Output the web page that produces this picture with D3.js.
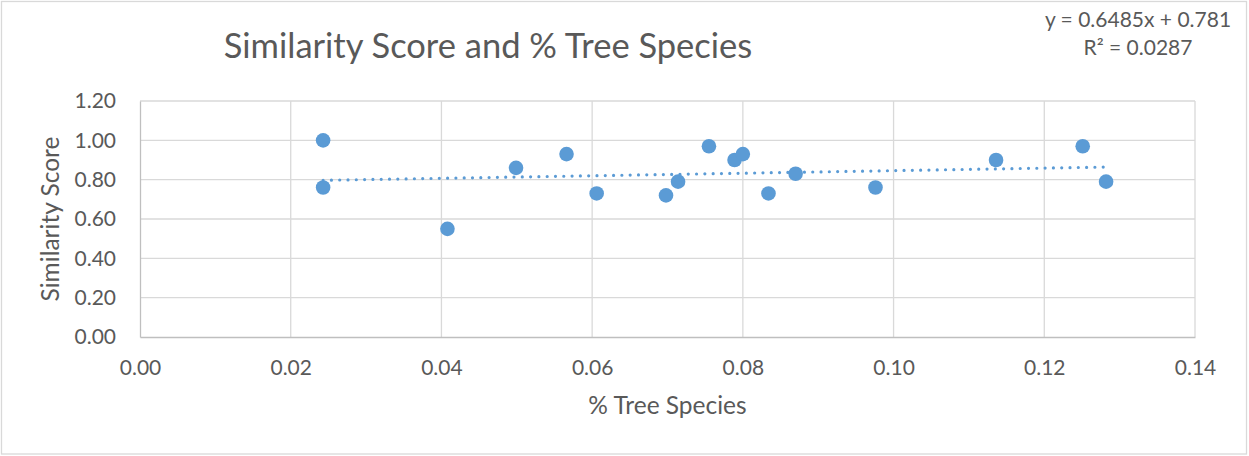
<!DOCTYPE html>
<html>
<head>
<meta charset="utf-8">
<script src="https://cdn.jsdelivr.net/npm/d3@7"></script>
<style>
  html, body { margin: 0; padding: 0; background: #fff; }
  svg { display: block; }
  text { font-family: Lato, "Open Sans", sans-serif; fill: #595959; }
</style>
</head>
<body>
<svg id="chart" width="1249" height="456"></svg>
<script>
// Share of tree species per site and the matching similarity score
const treeShare = [0.0243, 0.0243, 0.0408, 0.0499, 0.0566, 0.0606, 0.0698, 0.0714, 0.0755,
                   0.0789, 0.0800, 0.0834, 0.0870, 0.0976, 0.1136, 0.1251, 0.1282];
const similarity = [1.00, 0.76, 0.55, 0.86, 0.93, 0.73, 0.72, 0.79, 0.97,
                    0.90, 0.93, 0.73, 0.83, 0.76, 0.90, 0.97, 0.79];

// Linear trendline reported for the series
const trendSlope = 0.6485;
const trendIntercept = 0.781;
const trendLabels = ["y = 0.6485x + 0.781", "R² = 0.0287"];

const xTicks = [0, 0.02, 0.04, 0.06, 0.08, 0.10, 0.12, 0.14];
const yTicks = [0, 0.2, 0.4, 0.6, 0.8, 1.0, 1.2];

const svg = d3.select("#chart");
const plot = { left: 140, right: 1195, top: 101, bottom: 337 };

const x = d3.scaleLinear().domain([0, 0.14]).range([plot.left, plot.right]);
const y = d3.scaleLinear().domain([0, 1.2]).range([plot.bottom, plot.top]);

// chart frame
svg.append("rect")
  .attr("x", 1.5).attr("y", 1.5).attr("width", 1245).attr("height", 452.5)
  .attr("fill", "#fff").attr("stroke", "#d9d9d9").attr("stroke-width", 1.3);

// gridlines
const grid = svg.append("g");
grid.selectAll("line.h").data(yTicks.slice(1)).join("line")
  .attr("x1", plot.left).attr("x2", plot.right)
  .attr("y1", d => y(d)).attr("y2", d => y(d))
  .attr("stroke", "#d9d9d9").attr("stroke-width", 1.3);
grid.selectAll("line.v").data(xTicks.slice(1)).join("line")
  .attr("y1", plot.top).attr("y2", plot.bottom)
  .attr("x1", d => x(d)).attr("x2", d => x(d))
  .attr("stroke", "#d9d9d9").attr("stroke-width", 1.3);

// axes
const xAxis = svg.append("g")
  .attr("transform", `translate(0,${plot.bottom})`)
  .call(d3.axisBottom(x).tickValues(xTicks).tickFormat(d3.format(".2f")).tickSize(0).tickPadding(23));
const yAxis = svg.append("g")
  .attr("transform", `translate(${plot.left},0)`)
  .call(d3.axisLeft(y).tickValues(yTicks).tickFormat(d3.format(".2f")).tickSize(0).tickPadding(24));
[xAxis, yAxis].forEach(g => {
  g.select(".domain").attr("stroke", "#bfbfbf").attr("stroke-width", 1.3);
  g.selectAll("text").attr("font-size", 21).attr("fill", "#595959")
    .style("font-family", "Lato, 'Open Sans', sans-serif");
});

// trendline
const xs = d3.extent(treeShare);
svg.append("line")
  .attr("x1", x(xs[0])).attr("y1", y(trendSlope * xs[0] + trendIntercept))
  .attr("x2", x(xs[1])).attr("y2", y(trendSlope * xs[1] + trendIntercept))
  .attr("stroke", "#5b9bd5").attr("stroke-width", 3.2)
  .attr("stroke-linecap", "round").attr("stroke-dasharray", "0 8.3");

// markers
svg.append("g").selectAll("circle")
  .data(treeShare.map((v, i) => [v, similarity[i]]))
  .join("circle")
  .attr("cx", d => x(d[0])).attr("cy", d => y(d[1])).attr("r", 7.3)
  .attr("fill", "#5b9bd5");

// titles
svg.append("text").attr("x", 488).attr("y", 58).attr("text-anchor", "middle")
  .attr("font-size", 34.5).text("Similarity Score and % Tree Species");
svg.append("text").attr("x", (plot.left + plot.right) / 2).attr("y", 414)
  .attr("text-anchor", "middle").attr("font-size", 24.5).text("% Tree Species");
svg.append("text").attr("transform", `translate(59,${(plot.top + plot.bottom) / 2}) rotate(-90)`)
  .attr("text-anchor", "middle").attr("font-size", 24.5).text("Similarity Score");

// trendline equation
svg.append("g").selectAll("text").data(trendLabels).join("text")
  .attr("x", 1138).attr("y", (d, i) => 27 + i * 28)
  .attr("text-anchor", "middle").attr("font-size", 21).text(d => d);
</script>
</body>
</html>
